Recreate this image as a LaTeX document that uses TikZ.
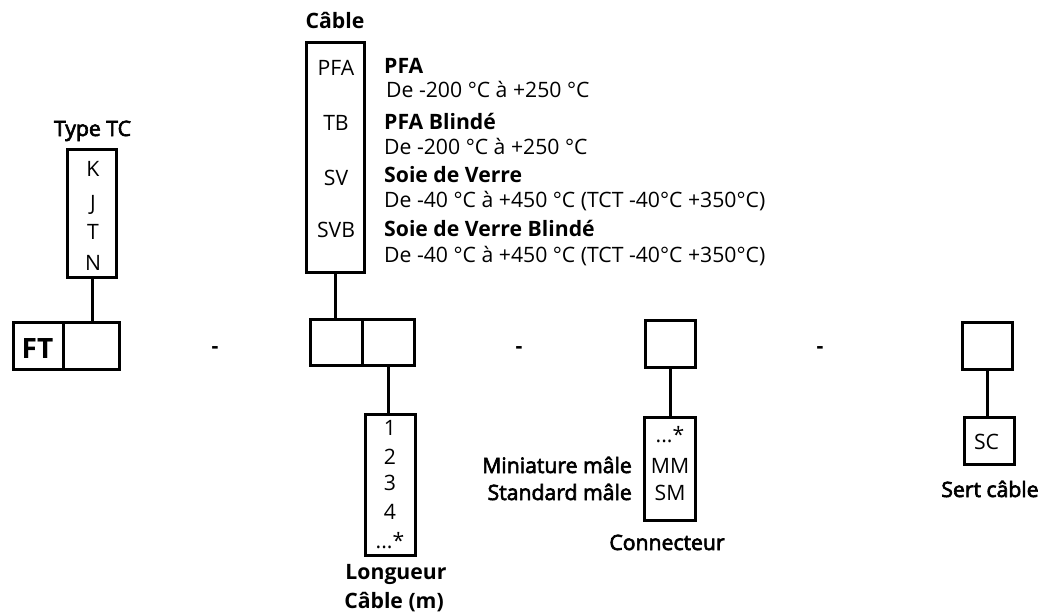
\documentclass[tikz,border=0pt]{standalone}
\usepackage{fontspec}
\setmainfont{Open Sans}
\newfontfamily\semib{Open Sans}[FakeBold=3]
\usetikzlibrary{positioning}
\tikzset{
  frame/.style={draw=black,line width=3pt,inner sep=0pt},
  wh/.style 2 args={minimum width=#1,minimum height=#2},
  link/.style={draw=black,line width=3pt},
  lbl/.style={inner sep=0pt,anchor=base,font=\fontsize{21.2}{24}\selectfont},
  ttl/.style={lbl,font=\fontsize{21.2}{24}\selectfont\bfseries},
  sub/.style={lbl,font=\fontsize{21.2}{24}\selectfont\semib},
}
\begin{document}
\begin{tikzpicture}[x=1pt,y=-1pt]
  \useasboundingbox (0,0) rectangle (1040,614);
  % code boxes
  \node[frame,wh={49pt}{128pt}] (tc) at (92,213.5) {};
  \node[frame,wh={50pt}{47pt}] (ft) at (38.5,346) {};
  \node[frame,wh={56pt}{47pt}] (tcsel) at (91.5,346) {};
  \node[frame,wh={58pt}{230pt}] (cab) at (335.5,157.5) {};
  \node[frame,wh={51.5pt}{46pt}] (cabA) at (336.25,342.5) {};
  \node[frame,wh={52.5pt}{46pt}] (cabB) at (388.25,342.5) {};
  \node[frame,wh={50pt}{141pt}] (len) at (390.5,485) {};
  \node[frame,wh={50pt}{47pt}] (con) at (670.5,344) {};
  \node[frame,wh={51pt}{103pt}] (conl) at (670,469) {};
  \node[frame,wh={50pt}{47pt}] (sc) at (987.5,346) {};
  \node[frame,wh={50pt}{47pt}] (scl) at (989.5,441) {};
  % links
  \draw[link] (tc.south) -- (tc.south |- tcsel.north);
  \draw[link] (cab.south) -- (cab.south |- cabA.north);
  \draw[link] (cabB.south) -- (cabB.south |- len.north);
  \draw[link] (con.south) -- (con.south |- conl.north);
  \draw[link] (sc.south) -- (sc.south |- scl.north);
  % type TC
  \node[sub] (tctitle) at (92.5,136) {Type TC};
  \foreach \t/\y in {K/176,J/210.5,T/239,N/270.5}
    \node[lbl] (tc-\t) at (93,\y) {\t};
  \node[ttl,font=\fontsize{28}{32}\selectfont\bfseries] (fttext) at (37.5,358) {FT};
  % separators
  \foreach \x [count=\i] in {215,519,820}
    \node[ttl] (sep\i) at (\x,353.5) {-};
  % cable
  \node[ttl] (cabtitle) at (335,28) {Câble};
  \foreach \t/\y in {PFA/75,TB/130,SV/185.5,SVB/237.5}
    \node[lbl] (cab-\t) at (336,\y) {\t};
  \node[ttl,anchor=base west] (d1) at (384,73.5) {PFA};
  \node[lbl,anchor=base west] (d1r) at (386,97.5) {De -200 °C à +250 °C};
  \node[ttl,anchor=base west] (d2) at (384,129.3) {PFA Blindé};
  \node[lbl,anchor=base west] (d2r) at (384,154.3) {De -200 °C à +250 °C};
  \node[ttl,anchor=base west] (d3) at (384,182.7) {Soie de Verre};
  \node[lbl,anchor=base west] (d3r) at (384,207.5) {De -40 °C à +450 °C (TCT -40°C +350°C)};
  \node[ttl,anchor=base west] (d4) at (384,236) {Soie de Verre Blindé};
  \node[lbl,anchor=base west] (d4r) at (384,262.5) {De -40 °C à +450 °C (TCT -40°C +350°C)};
  % length
  \foreach \t/\y in {1/435,2/464,3/490.7,4/519.3}
    \node[lbl] (len-\t) at (390,\y) {\t};
  \node[lbl] (len-x) at (390,548.3) {...*};
  \node[ttl] (lentitle) at (396,579) {Longueur};
  \node[ttl] (lentitle2) at (394,608) {Câble (m)};
  % connector
  \node[lbl] (con-x) at (670,442) {...*};
  \node[lbl] (con-mm) at (670,473) {MM};
  \node[lbl] (con-sm) at (670,500) {SM};
  \node[sub,anchor=base east] (mmtext) at (632,473) {Miniature mâle};
  \node[sub,anchor=base east] (smtext) at (632,500) {Standard mâle};
  \node[sub] (contitle) at (667,550) {Connecteur};
  % sert cable
  \node[lbl] (sc-t) at (986.5,449.3) {SC};
  \node[sub] (sctitle) at (990,497) {Sert câble};
\end{tikzpicture}
\end{document}
